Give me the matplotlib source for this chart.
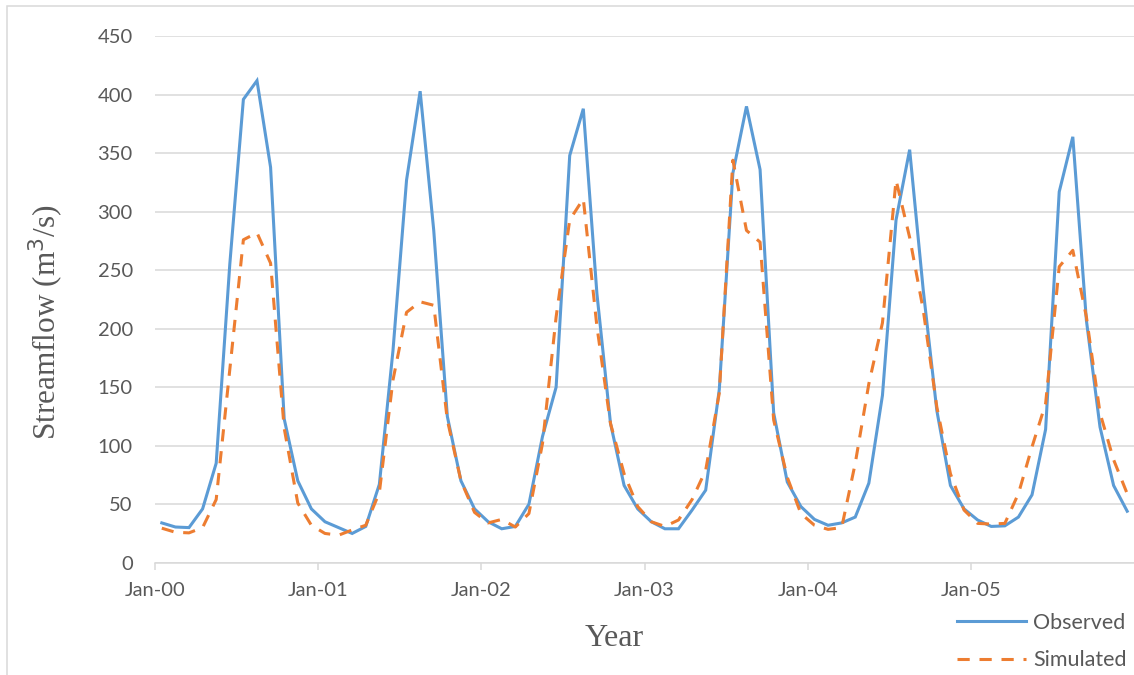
import numpy as np
import matplotlib
matplotlib.use("Agg")
import matplotlib.pyplot as plt
from matplotlib.patches import Rectangle

# --- Monthly streamflow, Jan 2000 - Dec 2005 (m3/s) ---
observed = [
    34, 30.5, 30, 46, 85, 255, 396, 412, 338, 123, 70, 46,
    35, 30, 25, 31, 67, 181, 327, 403, 284, 125, 70, 46,
    35, 29, 31, 50, 108, 150, 348, 388, 230, 119, 66, 46,
    35, 29, 29, 45, 62, 148, 333, 390, 336, 128, 69, 48,
    37, 32, 34, 39, 68, 143, 293, 353, 233, 130, 66, 46,
    36.5, 31, 31.5, 39, 58, 114, 317, 364, 207, 116, 66, 44,
]
simulated = [
    29.5, 26, 25.5, 30, 54, 165, 276, 282, 256, 115, 51, 32,
    25, 23.5, 28, 32, 60, 156, 214, 223, 220, 122, 70, 43,
    34, 37, 30.5, 42, 102, 210, 293, 311, 202, 119, 76, 48,
    35, 31, 36.5, 54, 79, 145, 344, 284, 274, 122, 73, 42,
    32, 28.5, 30, 85, 153, 205, 327, 278, 216, 133, 76, 45,
    33.6, 33, 33.6, 59, 99, 136, 253, 267, 210, 128, 88, 59,
]
year_labels = ["Jan-00", "Jan-01", "Jan-02", "Jan-03", "Jan-04", "Jan-05"]
y_ticks = [0, 50, 100, 150, 200, 250, 300, 350, 400, 450]

GRID = "#d9d9d9"
TXT = "#595959"
BLUE = "#5b9bd5"
ORANGE = "#ed7d31"

fig = plt.figure(figsize=(11.34, 6.75), dpi=100)
ax = fig.add_axes([155 / 1134, 1 - 562.7 / 675, 1 - 155 / 1134, (562.7 - 36.2) / 675])

# category centers (Excel "between tick marks")
n = len(observed)
x = np.arange(n) + 0.5
ax.plot(x, observed, color=BLUE, lw=2.2, label="Observed", solid_joinstyle="miter")
ax.plot(x, simulated, color=ORANGE, lw=2.2, label="Simulated",
        dashes=(4, 3.2), dash_capstyle="butt")

ax.set_xlim(0, n)
ax.set_ylim(0, 450)
ax.set_yticks(y_ticks)
ax.set_xticks(np.arange(0, n, 12))
ax.set_xticklabels(year_labels)

ax.grid(axis="y", color=GRID, lw=1.1)
ax.set_axisbelow(True)
for side in ["top", "right", "left"]:
    ax.spines[side].set_visible(False)
ax.spines["bottom"].set_color(GRID)
ax.spines["bottom"].set_linewidth(1.1)

for lab in ax.get_xticklabels() + ax.get_yticklabels():
    lab.set_fontfamily("Lato")
    lab.set_fontsize(14.5)
    lab.set_color(TXT)
ax.tick_params(axis="y", length=0, pad=16)
ax.tick_params(axis="x", length=5, color=GRID, width=1.1, pad=9)

fig.text(0.0414, 0.523, "Streamflow (m$^3$/s)", rotation=90, ha="center", va="center",
         family="Liberation Serif", fontsize=22.5, color=TXT)
fig.text(0.5414, 0.0548, "Year", ha="center", va="center",
         family="Liberation Serif", fontsize=23, color=TXT)

leg = ax.legend(loc="upper left", bbox_to_anchor=(957 / 1134, 1 - 613 / 675),
                bbox_transform=fig.transFigure, frameon=False, borderpad=0,
                borderaxespad=0, handlelength=3.2, handletextpad=0.33, labelspacing=0.8,
                prop={"family": "Lato", "size": 15.5})
for t in leg.get_texts():
    t.set_color(TXT)

# chart border
fig.patches.append(Rectangle((7 / 1134, -0.1), 1.2, 1.1 - 6 / 675, transform=fig.transFigure,
                             fill=False, edgecolor=GRID, lw=1.1))

fig.savefig("out.png", dpi=100)
